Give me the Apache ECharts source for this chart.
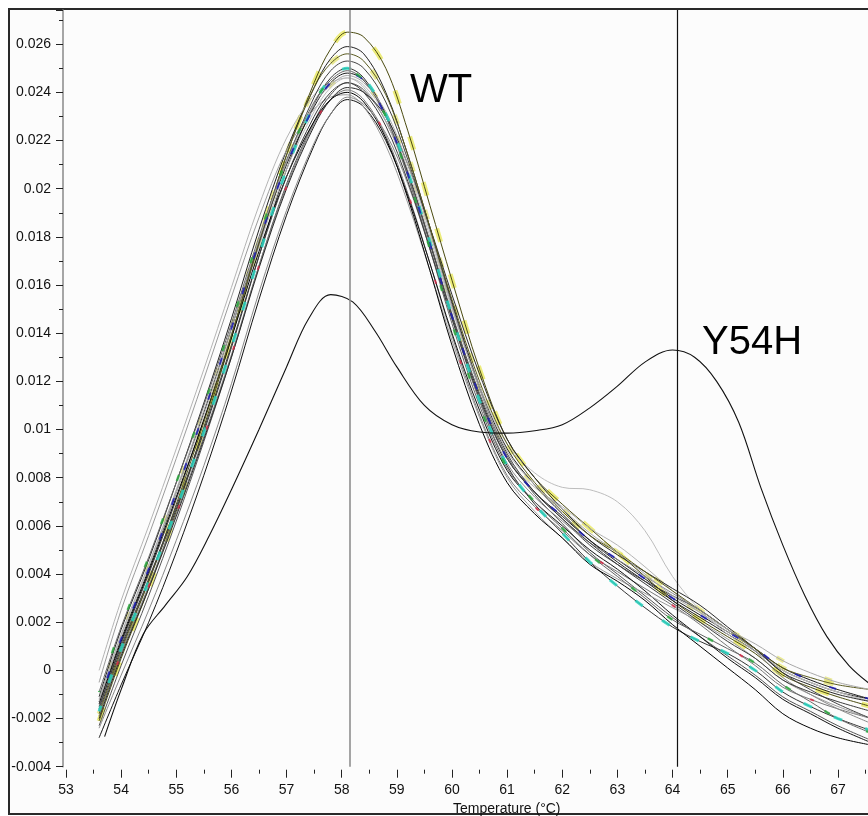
<!DOCTYPE html>
<html><head><meta charset="utf-8">
<script src="https://cdn.jsdelivr.net/npm/echarts@6/dist/echarts.min.js"></script>
<style>html,body{margin:0;padding:0;background:#fff}#c{width:868px;height:816px}</style>
</head><body><div id="c"></div>
<script>
// Temperature grid (°C) shared by the WT melt curves
const temps = [53.6, 54.0, 54.5, 55.0, 55.5, 56.0, 56.5, 57.0, 57.5, 57.8, 58.1, 58.4, 58.8, 59.2, 59.6, 60.0, 60.5, 61.0, 61.5, 62.0, 62.5, 63.0, 63.5, 64.0, 64.5, 65.0, 65.5, 66.0, 66.5, 67.0, 67.6];
// -dF/dT values, in units of 0.001
const wt01 = [-2.1, 0.5, 3.4, 6.6, 10.1, 13.8, 17.8, 21.4, 24.4, 25.8, 26.5, 26.3, 25.0, 22.4, 19.3, 16.2, 12.5, 9.6, 8.0, 6.9, 5.9, 4.9, 3.9, 2.9, 2.1, 1.4, 0.7, -0.2, -0.7, -1.1, -1.5];
const wt02 = [-1.1, 1.7, 4.6, 7.8, 11.1, 14.6, 18.3, 21.6, 24.2, 25.4, 25.9, 25.6, 24.0, 21.4, 18.4, 15.3, 11.8, 9.2, 7.7, 6.5, 5.4, 4.5, 3.7, 2.9, 2.2, 1.5, 0.8, 0.0, -0.5, -0.9, -1.2];
const wt03 = [-1.7, 0.9, 3.7, 6.7, 9.9, 13.4, 17.2, 20.8, 23.5, 24.6, 25.0, 24.6, 23.1, 20.7, 17.8, 14.7, 11.2, 8.5, 6.9, 5.7, 4.5, 3.5, 2.6, 1.8, 1.2, 0.7, 0.0, -0.9, -1.5, -2.0, -2.5];
const wt04 = [-1.3, 1.3, 4.2, 7.4, 10.7, 14.2, 17.8, 21.0, 23.4, 24.4, 24.8, 24.5, 23.0, 20.6, 17.7, 14.7, 11.4, 8.8, 7.4, 6.4, 5.4, 4.6, 3.8, 3.0, 2.3, 1.6, 0.9, 0.1, -0.4, -0.8, -1.2];
const wt05 = [-2.3, 0.2, 3.1, 6.2, 9.5, 13.0, 16.8, 20.2, 22.8, 23.9, 24.4, 24.1, 22.8, 20.6, 17.8, 14.8, 11.5, 8.9, 7.3, 6.1, 4.9, 4.0, 3.1, 2.2, 1.4, 0.6, -0.2, -1.1, -1.7, -2.3, -2.9];
const wt06 = [-1.9, 0.7, 3.5, 6.5, 9.7, 13.1, 16.8, 20.1, 22.7, 23.7, 24.1, 23.7, 22.2, 19.8, 16.9, 13.9, 10.6, 8.1, 6.8, 5.8, 4.8, 4.1, 3.4, 2.7, 1.9, 1.0, 0.2, -0.7, -1.2, -1.6, -2.0];
const wt07 = [-2.8, -0.6, 2.0, 4.9, 8.1, 11.6, 15.4, 18.9, 21.8, 23.1, 23.7, 23.4, 22.0, 19.7, 16.9, 14.0, 10.8, 8.3, 7.0, 6.0, 5.0, 4.2, 3.3, 2.3, 1.4, 0.5, -0.3, -1.2, -1.8, -2.4, -3.0];
const wt08 = [-0.5, 2.5, 5.6, 8.8, 12.1, 15.5, 18.8, 21.6, 23.3, 23.8, 23.9, 23.4, 21.8, 19.4, 16.6, 13.7, 10.5, 8.0, 6.6, 5.5, 4.5, 3.8, 3.2, 2.6, 2.0, 1.3, 0.5, -0.4, -1.0, -1.5, -2.0];
const wt09 = [0.0, 2.9, 6.0, 9.2, 12.5, 15.9, 19.3, 22.1, 23.9, 24.4, 24.6, 24.2, 22.8, 20.5, 17.6, 14.6, 11.3, 8.8, 7.6, 6.8, 5.9, 5.2, 4.3, 3.3, 2.4, 1.6, 0.9, 0.0, -0.5, -0.9, -1.3];
const wt10 = [-1.3, 1.4, 4.3, 7.4, 10.6, 14.0, 17.6, 20.8, 23.2, 24.2, 24.6, 24.3, 23.0, 20.8, 18.0, 15.0, 11.8, 9.4, 8.2, 7.6, 7.5, 7.0, 5.8, 3.9, 2.5, 1.5, 0.8, 0.0, -0.5, -0.9, -1.3];
const wt11 = [-1.6, 1.1, 4.0, 7.1, 10.4, 13.9, 17.7, 21.1, 23.8, 24.9, 25.3, 25.0, 23.6, 21.2, 18.3, 15.2, 11.7, 9.0, 7.4, 6.3, 5.2, 4.4, 3.7, 3.1, 2.5, 1.7, 0.9, -0.1, -0.8, -1.4, -2.0];
const wt12 = [-2.0, 0.6, 3.4, 6.4, 9.6, 13.0, 16.7, 20.0, 22.6, 23.7, 24.2, 24.0, 23.0, 21.0, 18.4, 15.6, 12.3, 9.6, 8.0, 6.7, 5.6, 4.8, 4.1, 3.4, 2.7, 1.8, 0.9, -0.1, -0.6, -1.0, -1.3];
const wt13 = [-1.4, 1.2, 4.1, 7.2, 10.4, 13.8, 17.4, 20.5, 22.8, 23.7, 24.0, 23.6, 22.1, 19.6, 16.6, 13.5, 10.2, 7.8, 6.5, 5.5, 4.4, 3.7, 2.9, 1.9, 1.0, 0.1, -0.8, -1.8, -2.4, -2.8, -3.1];
const wt14 = [-1.8, 0.8, 3.7, 6.9, 10.3, 13.9, 17.8, 21.4, 24.2, 25.2, 25.6, 25.3, 23.9, 21.4, 18.4, 15.4, 12.0, 9.4, 7.8, 6.6, 5.6, 4.9, 4.1, 3.3, 2.5, 1.7, 0.9, 0.1, -0.3, -0.6, -0.8];
const wt15 = [-0.9, 1.8, 4.7, 7.8, 11.0, 14.4, 18.0, 21.2, 23.6, 24.5, 24.9, 24.5, 23.0, 20.5, 17.5, 14.4, 11.0, 8.4, 7.0, 5.9, 4.8, 3.9, 3.0, 2.1, 1.5, 0.9, 0.3, -0.6, -1.3, -2.0, -2.6];
const wt16 = [-2.4, -0.2, 2.5, 5.4, 8.5, 11.9, 15.7, 19.1, 21.9, 23.1, 23.8, 23.5, 22.3, 20.2, 17.5, 14.6, 11.2, 8.6, 7.2, 6.2, 5.3, 4.6, 3.9, 3.2, 2.5, 1.7, 0.8, -0.3, -1.0, -1.6, -2.2];
const wt17 = [-1.5, 1.0, 3.8, 6.8, 10.0, 13.5, 17.2, 20.5, 23.0, 24.0, 24.4, 24.0, 22.6, 20.3, 17.5, 14.6, 11.3, 8.8, 7.4, 6.3, 5.3, 4.4, 3.6, 2.8, 2.0, 1.2, 0.5, -0.4, -0.9, -1.3, -1.7];
const wt18 = [-1.2, 1.5, 4.4, 7.5, 10.8, 14.2, 17.9, 21.1, 23.5, 24.3, 24.7, 24.4, 23.2, 21.0, 18.2, 15.1, 11.7, 9.1, 7.7, 6.7, 5.7, 4.9, 4.0, 3.1, 2.4, 1.7, 1.1, 0.4, -0.1, -0.5, -0.8];

// Y54H mutant curve
const y54hTemps = [53.7, 54.0, 54.4, 54.8, 55.2, 55.6, 56.0, 56.5, 57.0, 57.4, 57.8, 58.2, 58.6, 59.0, 59.5, 60.0, 60.5, 61.0, 61.5, 62.0, 62.5, 63.0, 63.5, 64.0, 64.4, 64.8, 65.2, 65.6, 66.0, 66.4, 66.8, 67.2, 67.6];
const y54h = [-2.75, -0.8, 1.5, 2.7, 3.9, 5.6, 7.5, 10.0, 12.6, 14.6, 15.6, 15.3, 14.1, 12.6, 11.0, 10.2, 9.9, 9.85, 9.95, 10.2, 10.9, 11.8, 12.8, 13.3, 13.0, 12.0, 10.3, 7.6, 5.2, 3.1, 1.4, 0.2, -0.6];

// Vertical marker lines (°C) and annotations
const markerTemps = [58.15, 64.08];
const curveLabels = ['WT', 'Y54H'];
const xAxisTitle = 'Temperature (°C)';

const wtCurves = [wt01, wt02, wt03, wt04, wt05, wt06, wt07, wt08, wt09, wt10, wt11, wt12, wt13, wt14, wt15, wt16, wt17, wt18];
const wtColors = ['#4a4a10', '#222', '#333', '#1a1a1a', '#555', '#777', '#111', '#9a9a9a', '#b4b4b4', '#bdbdbd', '#444', '#2a2a2a', '#000', '#5a5a20', '#666', '#888', '#3a3a3a', '#a8a8a8'];
const FONT = '"Liberation Sans", Arial, sans-serif';

function pairs(xs, ys) { return xs.map((x, i) => [x, ys[i]]); }

const series = [];
const overlays = [
  { src: wt01, color: 'rgba(230,230,70,0.7)', width: 5, dash: [14, 34], off: 0 },
  { src: wt14, color: 'rgba(225,225,90,0.65)', width: 5, dash: [10, 40], off: 8 },
  { src: wt18, color: 'rgba(220,220,80,0.6)', width: 4, dash: [8, 44], off: 20 },
];
overlays.forEach(o => series.push({
  type: 'line', data: pairs(temps, o.src), showSymbol: false, symbol: 'none', smooth: 0.35,
  silent: true, z: 1, lineStyle: { color: o.color, width: o.width, type: o.dash, dashOffset: o.off }
}));
wtCurves.forEach((c, i) => series.push({
  type: 'line', data: pairs(temps, c), showSymbol: false, symbol: 'none', smooth: 0.35,
  silent: true, z: 2, lineStyle: { color: wtColors[i], width: 1 }
}));
const overlays2 = [
  { src: wt03, color: 'rgba(40,210,190,0.85)', width: 3, dash: [9, 24], off: 3 },
  { src: wt04, color: 'rgba(30,30,180,0.85)', width: 2, dash: [7, 30], off: 12 },
  { src: wt15, color: 'rgba(40,170,60,0.8)', width: 2.5, dash: [6, 40], off: 5 },
  { src: wt06, color: 'rgba(220,40,70,0.8)', width: 2, dash: [4, 80], off: 30 },
];
overlays2.forEach(o => series.push({
  type: 'line', data: pairs(temps, o.src), showSymbol: false, symbol: 'none', smooth: 0.35,
  silent: true, z: 3, lineStyle: { color: o.color, width: o.width, type: o.dash, dashOffset: o.off }
}));
series.push({
  type: 'line', data: pairs(y54hTemps, y54h), showSymbol: false, symbol: 'none', smooth: 0.35,
  silent: true, z: 4, lineStyle: { color: '#111', width: 1.1 },
  markLine: {
    silent: true, symbol: ['none', 'none'], label: { show: false }, animation: false,
    data: [
      { xAxis: markerTemps[0], lineStyle: { color: '#8e8e8e', width: 1.6, type: 'solid' } },
      { xAxis: markerTemps[1], lineStyle: { color: '#111', width: 1.2, type: 'solid' } }
    ]
  }
});

const chart = echarts.init(document.getElementById('c'), null, { renderer: 'canvas' });
chart.setOption({
  backgroundColor: '#ffffff',
  animation: false,
  grid: { left: 66, right: 0, top: 10, bottom: 49.3, containLabel: false },
  xAxis: {
    type: 'value', min: 53, max: 67.545, interval: 1, offset: 3,
    axisLine: { show: false, onZero: false },
    axisTick: { show: true, length: 8, lineStyle: { color: '#222', width: 1 } },
    minorTick: { show: true, splitNumber: 2, length: 4, lineStyle: { color: '#222', width: 1 } },
    splitLine: { show: false },
    axisLabel: { margin: 13, fontSize: 14, color: '#111', fontFamily: FONT, showMaxLabel: false }
  },
  yAxis: {
    type: 'value', min: -4, max: 27.42, interval: 2, offset: 3,
    axisLine: { show: true, onZero: false, lineStyle: { color: '#8a8a8a', width: 1.5 } },
    axisTick: { show: true, length: 7, lineStyle: { color: '#222', width: 1 } },
    minorTick: { show: true, splitNumber: 2, length: 4, lineStyle: { color: '#222', width: 1 } },
    splitLine: { show: false },
    axisLabel: { margin: 12, fontSize: 14, color: '#111', fontFamily: FONT, showMaxLabel: false,
      formatter: v => String(v / 1000) }
  },
  graphic: [
    { type: 'rect', z: -10, silent: true, shape: { x: 9, y: 9, width: 880, height: 805 },
      style: { fill: '#fcfcfc', stroke: '#2a2a2a', lineWidth: 2 } },
    { type: 'text', x: 410, y: 91, silent: true, z: 10,
      style: { text: curveLabels[0], font: '40px ' + FONT, fill: '#000', textVerticalAlign: 'middle', verticalAlign: 'middle' } },
    { type: 'text', x: 702, y: 343, silent: true, z: 10,
      style: { text: curveLabels[1], font: '40px ' + FONT, fill: '#000', textVerticalAlign: 'middle', verticalAlign: 'middle' } },
    { type: 'text', x: 453, y: 809, silent: true, z: 10,
      style: { text: xAxisTitle, font: '14px ' + FONT, fill: '#111', textVerticalAlign: 'middle', verticalAlign: 'middle' } }
  ],
  series: series
});
</script>
</body></html>
